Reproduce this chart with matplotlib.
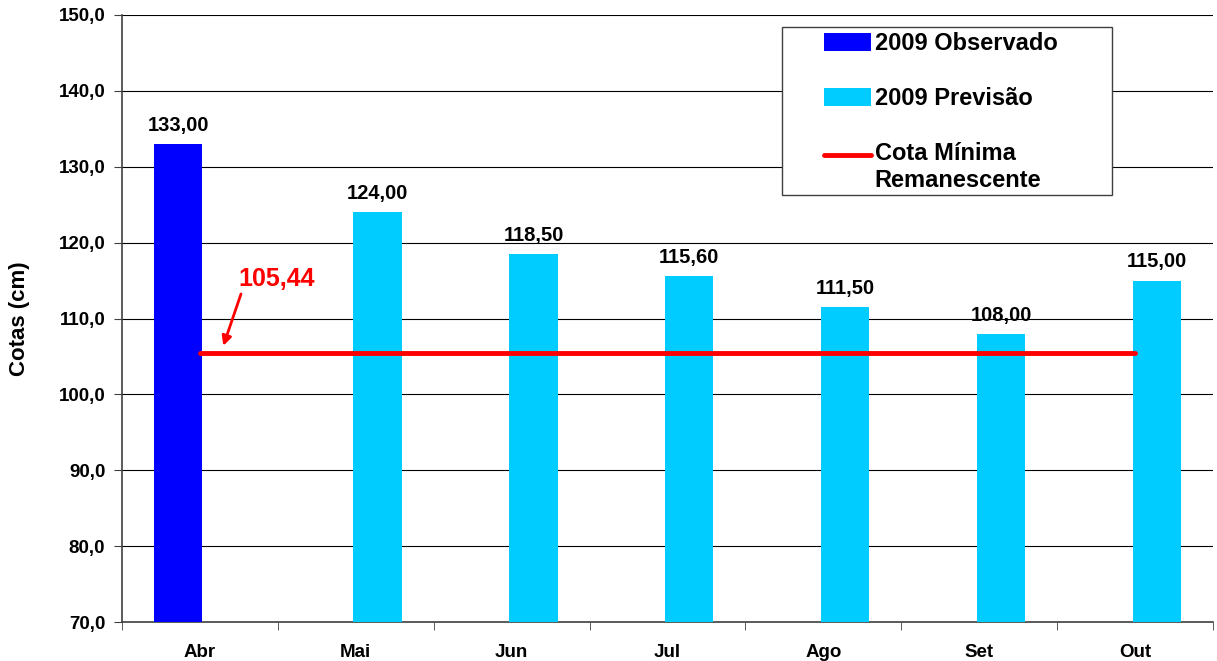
import numpy as np
import matplotlib
matplotlib.use('Agg')
import matplotlib.pyplot as plt
from matplotlib.patches import Patch, Rectangle
from matplotlib.lines import Line2D

plt.rcParams['font.family'] = ['Liberation Sans', 'DejaVu Sans']
plt.rcParams['font.weight'] = 'bold'

# data
meses = ['Abr', 'Mai', 'Jun', 'Jul', 'Ago', 'Set', 'Out']
observado = [133.00, None, None, None, None, None, None]
previsao = [None, 124.00, 118.50, 115.60, 111.50, 108.00, 115.00]
cota_minima = 105.44

def fmt(v, nd):
    return ('{:.%df}' % nd).format(v).replace('.', ',')

fig = plt.figure(figsize=(12.17, 6.61), dpi=100)
ax = fig.add_axes([122 / 1217, 1 - 622 / 661, (1213 - 122) / 1217, (622 - 15) / 661])

x = np.arange(len(meses))
w = 0.31
off = 0.14
for i, v in enumerate(observado):
    if v is not None:
        ax.bar(x[i] - off, v - 70, w, bottom=70, color='#0000FF', zorder=3)
        ax.text(x[i] - off, v + 1.2, fmt(v, 2), ha='center', va='bottom', fontsize=14.5, fontweight='bold')
for i, v in enumerate(previsao):
    if v is not None:
        ax.bar(x[i] + off, v - 70, w, bottom=70, color='#00CCFF', zorder=3)
        ax.text(x[i] + off, v + 1.2, fmt(v, 2), ha='center', va='bottom', fontsize=14.5, fontweight='bold')

ax.plot(x, [cota_minima] * len(x), color='#FF0000', lw=3.5, solid_capstyle='round', zorder=4)

ax.annotate(fmt(cota_minima, 2), xy=(0.15, 106.4), xytext=(0.245, 113.6),
            color='#FF0000', fontsize=18, fontweight='bold', ha='left', va='bottom',
            arrowprops=dict(arrowstyle='-|>', color='#FF0000', lw=2, mutation_scale=14,
                            shrinkA=0, shrinkB=0, relpos=(0.05, 0)))

ax.set_xlim(-0.5, len(meses) - 0.5)
ax.set_ylim(70, 150)
ax.set_yticks(np.arange(70, 151, 10))
ax.set_yticklabels([fmt(v, 1) for v in np.arange(70, 151, 10)], fontsize=13.5, fontweight='bold')
ax.set_xticks(x)
ax.set_xticklabels(meses, fontsize=13.5, fontweight='bold')
ax.tick_params(axis='x', which='major', length=0, pad=16)
ax.set_xticks(np.arange(-0.5, len(meses), 1), minor=True)
ax.tick_params(axis='x', which='minor', length=6, color='#404040')
ax.tick_params(axis='y', length=6, color='#404040', pad=6)
ax.grid(axis='y', color='black', lw=0.8, zorder=0)
for s in ['top', 'right']:
    ax.spines[s].set_visible(False)
for s in ['left', 'bottom']:
    ax.spines[s].set_color('#404040')
    ax.spines[s].set_linewidth(1.2)
ax.set_ylabel('Cotas (cm)', fontsize=16, fontweight='bold')
ax.yaxis.set_label_coords(-92 / 1091, 0.5)

# legend frame drawn separately to get Excel-like padding
frame = Rectangle((782 / 1217, 1 - 195 / 661), 330 / 1217, 168 / 661,
                  transform=fig.transFigure, facecolor='white',
                  edgecolor='#404040', lw=1.0, zorder=9, clip_on=False)
ax.add_patch(frame)
handles = [Patch(facecolor='#0000FF'), Patch(facecolor='#00CCFF'),
           Line2D([0], [0], color='#FF0000', lw=3.5, solid_capstyle='round')]
labels = ['2009 Observado', '2009 Previsão', 'Cota Mínima\nRemanescente']
leg = ax.legend(handles, labels, loc='upper left', bbox_to_anchor=(824 / 1217, 1 - 32 / 661),
                bbox_transform=fig.transFigure, frameon=False,
                prop={'size': 17, 'weight': 'bold'},
                handlelength=2.0, handleheight=0.8, handletextpad=0.15,
                labelspacing=1.36, borderpad=0, borderaxespad=0)
leg.set_zorder(10)
# put the red line next to the first text line, like Excel
red = leg.legend_handles[2]
red.set_ydata(np.asarray(red.get_ydata()) + 9)

fig.savefig('out.png', dpi=100)
